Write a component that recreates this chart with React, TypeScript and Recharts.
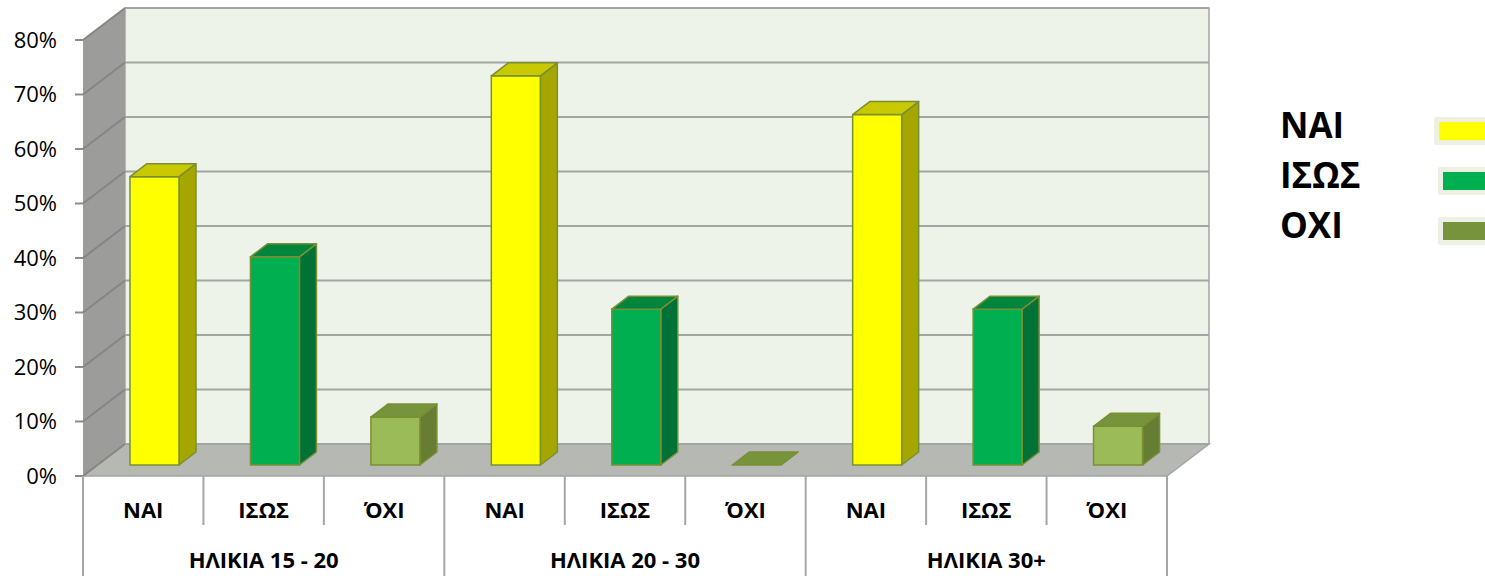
import { BarChart, Bar, XAxis, YAxis, CartesianGrid } from 'recharts'

const groups = ['ΗΛΙΚΙΑ 15 - 20', 'ΗΛΙΚΙΑ 20 - 30', 'ΗΛΙΚΙΑ 30+']
const answers = ['ΝΑΙ', 'ΙΣΩΣ', 'ΌΧΙ']
const legendLabels = ['ΝΑΙ', 'ΙΣΩΣ', 'ΟΧΙ']
const age15to20 = [52.9, 38.2, 8.8]
const age20to30 = [71.4, 28.6, 0]
const age30plus = [64.3, 28.6, 7.1]
const yTicks = [0, 10, 20, 30, 40, 50, 60, 70, 80]

const series = [age15to20, age20to30, age30plus]
const rows = groups.flatMap((group, gi) =>
  answers.map((answer, ai) => ({ key: `${gi}-${ai}`, group, answer, ai, value: series[gi][ai] })),
)

const W = 1485
const H = 576
const LEFT = 83
const TOP = 40
const RIGHT = 1167
const BOTTOM = 476
const BAND = (RIGHT - LEFT) / rows.length
const WALL_DX = 42
const WALL_DY = 32
const BAR_SHIFT_X = 11
const BAR_SHIFT_Y = 11
const DEPTH_X = 17
const DEPTH_Y = 13
const FONT = '"Open Sans", "Noto Sans", sans-serif'

const faces = [
  { front: '#FFFF00', top: '#C9C900', side: '#A6A600' },
  { front: '#00B050', top: '#00853C', side: '#007236' },
  { front: '#9BBB59', top: '#77933C', side: '#667D33' },
]
const swatch = ['#FFFF00', '#00B050', '#77933C']

const Box3D = (props: any) => {
  const { x, y, width, height, payload } = props
  const c = faces[payload.ai]
  const fx = x + BAR_SHIFT_X
  const fy = y - BAR_SHIFT_Y
  const w = width
  const h = Math.max(0, height)
  const stroke = '#7A8F33'
  const top = `${fx},${fy} ${fx + DEPTH_X},${fy - DEPTH_Y} ${fx + w + DEPTH_X},${fy - DEPTH_Y} ${fx + w},${fy}`
  const side = `${fx + w},${fy} ${fx + w + DEPTH_X},${fy - DEPTH_Y} ${fx + w + DEPTH_X},${fy + h - DEPTH_Y} ${fx + w},${fy + h}`
  return (
    <g>
      {h > 0 && <polygon points={side} fill={c.side} stroke={stroke} strokeWidth={1.5} strokeLinejoin="round" />}
      {h > 0 && <rect x={fx} y={fy} width={w} height={h} fill={c.front} stroke={stroke} strokeWidth={1.5} />}
      <polygon points={top} fill={c.top} stroke={stroke} strokeWidth={1.5} strokeLinejoin="round" />
    </g>
  )
}

const GridLine = (p: any) => {
  const bx = p.x1 + WALL_DX
  const by = p.y1 - WALL_DY
  return (
    <g key={p.key}>
      <line x1={p.x1} y1={p.y1} x2={bx} y2={by} stroke="#858683" strokeWidth={2} />
      <line x1={bx} y1={by} x2={p.x2 + WALL_DX} y2={by} stroke="#A3A5A2" strokeWidth={2} />
    </g>
  )
}

const CategoryTick = (props: any) => {
  const { x, y, index } = props
  const row = rows[index]
  const lastInGroup = row.ai === answers.length - 1
  const sep = '#A6A6A6'
  return (
    <g>
      {index === 0 && <line x1={x - BAND / 2} y1={y} x2={x - BAND / 2} y2={H} stroke={sep} strokeWidth={2} />}
      <line x1={x + BAND / 2} y1={y} x2={x + BAND / 2} y2={lastInGroup ? H : y + 49} stroke={sep} strokeWidth={2} />
      <text x={x} y={y + 42} textAnchor="middle" fontFamily={FONT} fontWeight={700} fontSize={22} fill="#000">
        {row.answer}
      </text>
      {row.ai === 1 && (
        <text x={x} y={y + 92} textAnchor="middle" fontFamily={FONT} fontWeight={700} fontSize={22} fill="#000">
          {row.group}
        </text>
      )}
    </g>
  )
}

function Walls() {
  return (
    <svg width={W} height={H} style={{ position: 'absolute', left: 0, top: 0 }}>
      <rect x={LEFT + WALL_DX} y={TOP - WALL_DY} width={RIGHT - LEFT} height={BOTTOM - TOP} fill="#EEF3E9" stroke="#A3A5A2" strokeWidth={1.5} />
      <polygon
        points={`${LEFT},${TOP} ${LEFT + WALL_DX},${TOP - WALL_DY} ${LEFT + WALL_DX},${BOTTOM - WALL_DY} ${LEFT},${BOTTOM}`}
        fill="#9C9D9A"
      />
      <polygon
        points={`${LEFT},${BOTTOM} ${RIGHT},${BOTTOM} ${RIGHT + WALL_DX},${BOTTOM - WALL_DY} ${LEFT + WALL_DX},${BOTTOM - WALL_DY}`}
        fill="#B6B8B3"
        stroke="#A3A5A2"
        strokeWidth={1.5}
      />
    </svg>
  )
}

function Legend3D() {
  return (
    <div style={{ position: 'absolute', left: 1280, top: 100, fontFamily: FONT, fontWeight: 700, fontSize: 35, color: '#000' }}>
      {legendLabels.map((label, i) => (
        <div key={label} style={{ position: 'relative', height: 50, lineHeight: '50px' }}>
          {label}
          <div
            style={{
              position: 'absolute',
              left: i === 0 ? 154 : 158,
              top: 17,
              width: 60,
              height: 18,
              background: swatch[i],
              border: '5px solid #ECF1E4',
              borderRadius: 2,
            }}
          />
        </div>
      ))}
    </div>
  )
}

export default function App() {
  return (
    <div style={{ position: 'absolute', left: 0, top: 0, width: W, height: H, overflow: 'hidden', background: '#fff', fontFamily: FONT }}>
      <Walls />
      <div style={{ position: 'absolute', left: 0, top: 0 }}>
        <BarChart width={W} height={H} data={rows} margin={{ top: TOP, right: W - RIGHT, bottom: 0, left: 0 }}>
          <CartesianGrid vertical={false} horizontal={GridLine} />
          <XAxis
            dataKey="key"
            height={H - BOTTOM}
            interval={0}
            axisLine={false}
            tickLine={false}
            tickSize={0}
            tickMargin={0}
            tick={CategoryTick}
          />
          <YAxis
            width={LEFT}
            domain={[0, 80]}
            ticks={yTicks}
            tickFormatter={(v: number) => `${v}%`}
            axisLine={false}
            tickLine={{ stroke: '#8C8C8C', strokeWidth: 2 }}
            tickSize={8}
            tickMargin={18}
            tick={{ fill: '#000', fontSize: 22, fontFamily: FONT }}
          />
          <Bar dataKey="value" barSize={49} shape={Box3D} isAnimationActive={false} />
        </BarChart>
      </div>
      <Legend3D />
    </div>
  )
}
